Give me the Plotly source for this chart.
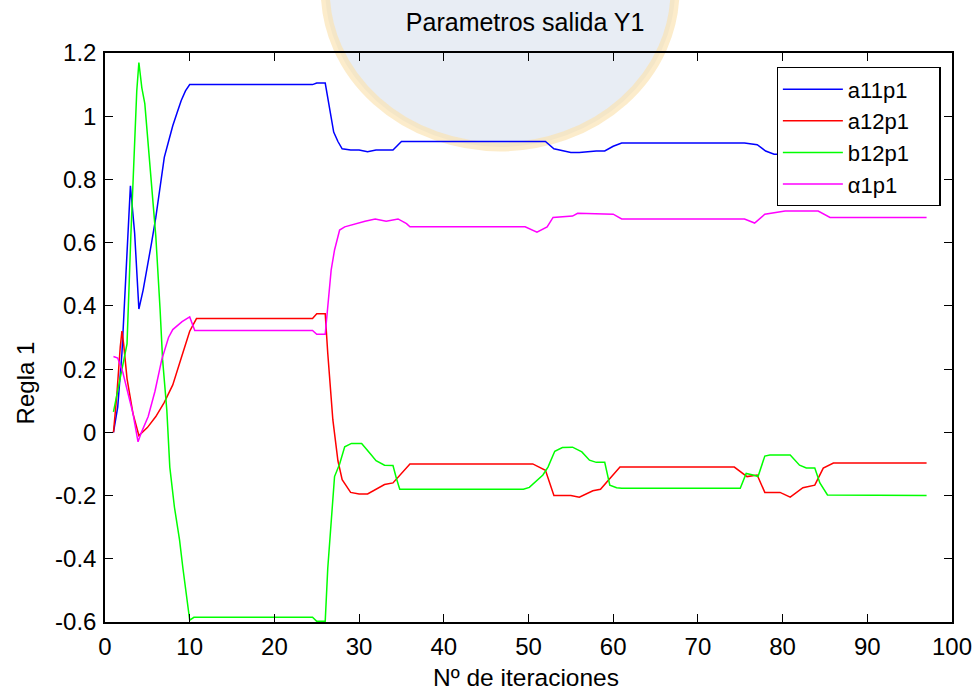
import plotly.graph_objects as go

# ---- data ----
a11_x = [1, 1.5, 2, 2.5, 3, 3.5, 4, 4.5, 5, 5.5, 6, 6.5, 7, 7.5, 8, 8.5, 9, 9.5, 10,
         24.5, 25, 26, 26.5, 27, 27.5, 28, 29, 30, 31, 32, 33, 34, 35,
         52, 53, 54, 55, 56, 57, 58, 59, 60, 61, 75.5, 77, 78, 79, 84, 86, 97]
a11_y = [0, 0.08, 0.25, 0.5, 0.78, 0.63, 0.39, 0.45, 0.52, 0.6, 0.68, 0.78, 0.87, 0.92, 0.97, 1.01, 1.05, 1.08, 1.1,
         1.1, 1.105, 1.105, 1.02, 0.95, 0.92, 0.897, 0.893, 0.893, 0.888, 0.893, 0.893, 0.893, 0.92,
         0.92, 0.897, 0.89, 0.885, 0.885, 0.888, 0.89, 0.89, 0.905, 0.915, 0.915, 0.91, 0.89, 0.88, 0.88, 0.9, 0.9]

a12_x = [1, 1.4, 1.8, 2, 2.2, 2.6, 3.3, 4, 5, 6, 7, 8, 9, 10, 10.8,
         24.5, 25, 26, 26.3, 26.9, 27.5, 28, 29, 30, 31, 32, 33, 34, 35, 36,
         50.5, 52, 53, 55, 56, 57.6, 58.5, 59.5, 60.8, 74.3, 75.8, 77, 77.9, 79.7, 80.9, 82.4, 83.8, 84.8, 86, 97]
a12_y = [0, 0.12, 0.27, 0.32, 0.28, 0.17, 0.06, -0.01, 0.015, 0.05, 0.095, 0.15, 0.235, 0.32, 0.36,
         0.36, 0.375, 0.375, 0.25, 0.04, -0.09, -0.15, -0.19, -0.195, -0.195, -0.18, -0.165, -0.16, -0.13, -0.1,
         -0.1, -0.12, -0.2, -0.2, -0.205, -0.185, -0.18, -0.15, -0.11, -0.11, -0.14, -0.135, -0.19, -0.19, -0.205, -0.175, -0.167, -0.113, -0.097, -0.097]

b12_x = [1, 1.5, 2.6, 3.05, 3.5, 3.75, 4, 4.35, 4.7, 5.05, 5.3, 5.65, 6, 6.5, 6.8, 7.3, 7.65, 8.2, 8.8, 9.2, 9.65, 10, 10.5,
         24.5, 25, 26, 26.3, 26.7, 27.1, 27.7, 28.3, 29.1, 30.3, 31.3, 32, 33, 34, 34.4, 34.8,
         49.4, 50.1, 51.7, 52.3, 53.1, 54, 55.2, 56.3, 57.2, 58, 59, 59.6, 60.4, 61,
         75, 75.7, 76.5, 77.1, 77.9, 78.5, 80.9, 82, 82.8, 83.8, 84.4, 85.3, 97]
b12_y = [0.065, 0.13, 0.28, 0.62, 0.9, 1.08, 1.17, 1.09, 1.04, 0.93, 0.85, 0.75, 0.62, 0.39, 0.23, 0.07, -0.11, -0.237, -0.34, -0.43, -0.52, -0.594, -0.585,
         -0.585, -0.598, -0.598, -0.43, -0.27, -0.14, -0.1, -0.046, -0.035, -0.035, -0.067, -0.09, -0.104, -0.105, -0.145, -0.18,
         -0.18, -0.174, -0.135, -0.11, -0.06, -0.048, -0.047, -0.062, -0.088, -0.095, -0.095, -0.167, -0.175, -0.177,
         -0.177, -0.13, -0.135, -0.14, -0.075, -0.072, -0.072, -0.104, -0.113, -0.113, -0.16, -0.198, -0.2]

alf_x = [1, 1.5, 2.1, 2.7, 3.3, 3.9, 4.3, 5.1, 5.9, 6.7, 7.5, 8, 9.1, 10, 10.6,
         24.5, 25, 26, 26.7, 27.1, 27.7, 28.3, 29.5, 30.7, 31.9, 33.2, 34.6, 35.6, 36,
         49.6, 51, 52.2, 52.9, 55.2, 55.8, 60, 61, 75.5, 76.7, 77.9, 80.3, 84.2, 85.6, 97]
alf_y = [0.24, 0.235, 0.19, 0.124, 0.06, -0.03, 0.0, 0.05, 0.13, 0.23, 0.30, 0.325, 0.35, 0.365, 0.322,
         0.322, 0.31, 0.31, 0.513, 0.577, 0.64, 0.65, 0.66, 0.668, 0.675, 0.668, 0.675, 0.66, 0.65,
         0.65, 0.633, 0.65, 0.68, 0.684, 0.693, 0.69, 0.675, 0.675, 0.662, 0.69, 0.70, 0.70, 0.68, 0.68]

x_ticks = [0, 10, 20, 30, 40, 50, 60, 70, 80, 90, 100]
y_ticks = [-0.6, -0.4, -0.2, 0, 0.2, 0.4, 0.6, 0.8, 1.0, 1.2]
y_tick_text = ["-0.6", "-0.4", "-0.2", "0", "0.2", "0.4", "0.6", "0.8", "1", "1.2"]

series = [
    ("a11p1", a11_x, a11_y, "#0000ff"),
    ("a12p1", a12_x, a12_y, "#ff0000"),
    ("b12p1", b12_x, b12_y, "#00ff00"),
    ("\u03b11p1", alf_x, alf_y, "#ff00ff"),
]

FONT = "Liberation Sans, Arial, sans-serif"
PAD = "\u00a0\u00a0\u00a0\u00a0"

fig = go.Figure()
for name, xs, ys, col in series:
    fig.add_trace(go.Scatter(x=xs, y=ys, mode="lines", name=name + PAD,
                             line=dict(color=col, width=1.5)))

# faint watermark emblem behind the plot
fig.add_shape(type="circle", xref="paper", yref="paper", layer="below",
              x0=0.26, x1=0.673, y0=0.835, y1=1.387,
              fillcolor="rgba(210,219,233,0.5)", line=dict(color="rgba(250,226,175,0.65)", width=9))

fig.update_layout(
    width=976, height=690,
    margin=dict(l=105, r=24, t=53, b=68, autoexpand=False),
    paper_bgcolor="white", plot_bgcolor="rgba(0,0,0,0)",
    font=dict(family=FONT, size=24, color="black"),
    title=dict(text="Parametros salida Y1", x=0.496, xref="paper", xanchor="center",
               y=0.968, yref="container", yanchor="middle",
               font=dict(family=FONT, size=25, color="black")),
    showlegend=True,
    legend=dict(x=0.793, y=0.975, xanchor="left", yanchor="top",
                bgcolor="white", bordercolor="black", borderwidth=1.2,
                font=dict(family=FONT, size=22, color="black"), tracegroupgap=0,
                itemwidth=60),
    annotations=[
        dict(text="N\u00ba de iteraciones", xref="paper", yref="paper", x=0.497, y=-0.097,
             xanchor="center", yanchor="middle", showarrow=False, font=dict(family=FONT, size=24.5)),
        dict(text="Regla 1", xref="paper", yref="paper", x=-0.094, y=0.42, textangle=-90,
             xanchor="center", yanchor="middle", showarrow=False, font=dict(family=FONT, size=24)),
    ],
)
fig.update_xaxes(range=[0, 100], tickvals=x_ticks, ticks="inside", ticklen=8, tickcolor="black",
                 showline=True, linecolor="black", linewidth=1.5, mirror="ticks", showgrid=False,
                 zeroline=False, ticklabelstandoff=2, tickfont=dict(family=FONT, size=24))
fig.update_yaxes(range=[-0.6, 1.2], tickvals=y_ticks, ticktext=y_tick_text, ticks="inside", ticklen=8,
                 tickcolor="black", showline=True, linecolor="black", linewidth=1.5, mirror="ticks",
                 showgrid=False, zeroline=False, ticklabelstandoff=2,
                 tickfont=dict(family=FONT, size=24))

fig.write_html("out.html", config={"displayModeBar": False},
               post_script="document.body.style.margin='0px';document.body.style.overflow='hidden';")
